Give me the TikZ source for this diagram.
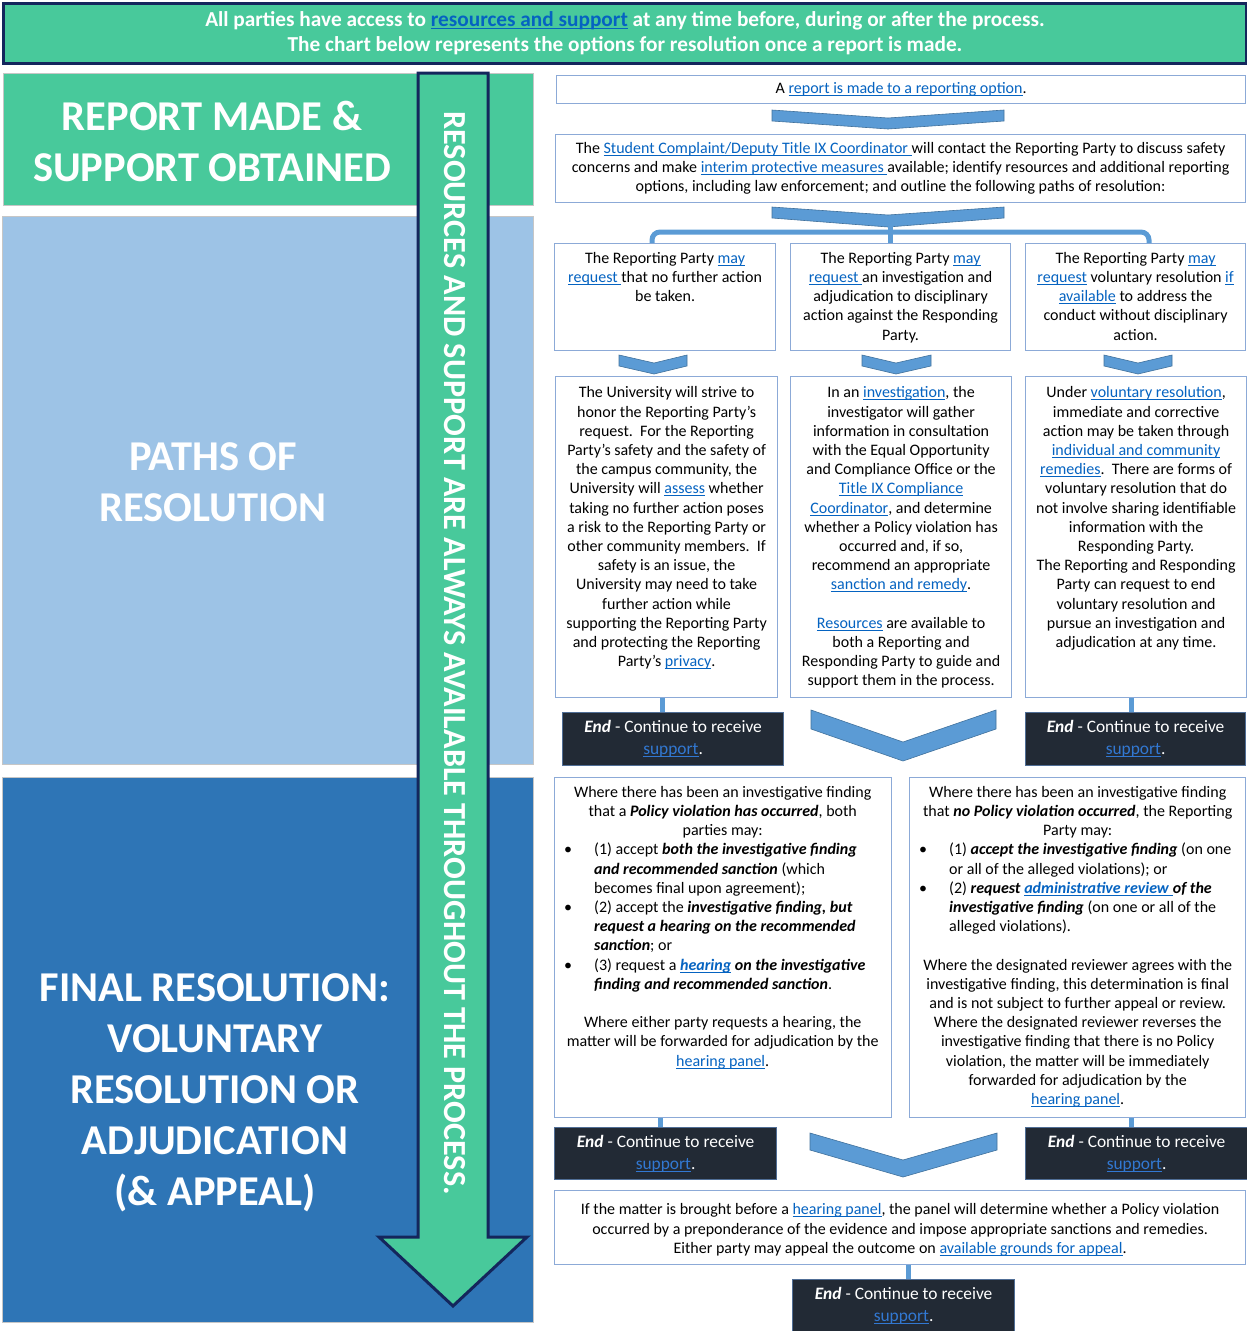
\documentclass[tikz,border=0pt]{standalone}
\usepackage{fontspec}
\setmainfont{Carlito}
\definecolor{grn}{RGB}{72,201,155}
\definecolor{navy}{RGB}{20,38,92}
\definecolor{lblue}{RGB}{157,195,230}
\definecolor{dblue}{RGB}{46,117,182}
\definecolor{boxline}{RGB}{140,170,215}
\definecolor{chevfill}{RGB}{91,155,213}
\definecolor{chevline}{RGB}{65,113,156}
\definecolor{endfill}{RGB}{34,42,53}
\definecolor{endline}{RGB}{80,110,150}
\definecolor{linkblue}{RGB}{5,99,193}
\definecolor{linklight}{RGB}{50,120,210}
\newcommand{\myul}[1]{\leavevmode\setbox0\hbox{#1}\rlap{\rule[-2.4pt]{\wd0}{0.9pt}}\box0}
\newcommand{\lk}[1]{{\color{linkblue}\myul{#1}}}
\newcommand{\bi}[1]{\textbf{\textit{#1}}}
\newlength{\lw}
\newcommand{\cl}[1]{\makebox[\lw][c]{#1}}
\newcommand{\bl}[1]{\makebox[\lw][l]{\makebox[36pt][l]{\hspace{6pt}•}#1}}
\newcommand{\il}[1]{\makebox[\lw][l]{\hspace{36pt}#1}}
\newcommand{\fintxt}{\bi{End} - Continue to receive\\{\color{linklight}\myul{support}}.}
\tikzset{
  bx/.style={draw=boxline, line width=1.2pt, fill=white, inner sep=0pt, anchor=north west},
  txt/.style={inner sep=0pt, align=center, font=\fontsize{16}{19.2}\selectfont},
  endbox/.style={draw=endline, fill=endfill, line width=1.2pt, inner sep=0pt, anchor=north west,
     text=white, align=center, font=\fontsize{17.4}{22}\selectfont},
  chev/.style={fill=chevfill, draw=chevline, line width=0.6pt, line join=miter},
  conn/.style={draw=chevfill, line width=5pt},
  lbox/.style={draw=gray!45, line width=0.8pt, inner sep=0pt, anchor=north west},
  ltxt/.style={text=white, align=center, font=\bfseries\fontsize{42.5}{51}\selectfont},
}
\begin{document}
\begin{tikzpicture}[x=1pt,y=-1pt]
\useasboundingbox (0,0) rectangle (1247,1331);
% top banner
\node[draw=navy, line width=3pt, fill=grn, minimum width=1243, minimum height=60, inner sep=0pt, anchor=north west,
  text=white, align=center, font=\bfseries\fontsize{21.3}{25}\selectfont] (banner) at (2,2)
  {All parties have access to {\color{linkblue}\myul{resources and support}} at any time before, during or after the process.\\
   The chart below represents the options for resolution once a report is made.};
% left column
\node[lbox, fill=grn, minimum width=530, minimum height=132] (lg) at (3,73) {};
\node[lbox, fill=lblue, minimum width=531, minimum height=548] (lb) at (2,216) {};
\node[lbox, fill=dblue, minimum width=531, minimum height=545] (ld) at (2,777) {};
\node[ltxt] (lgt) at (212,141) {REPORT MADE \&\\SUPPORT OBTAINED};
\node[ltxt] (lbt) at (213,482) {PATHS OF\\RESOLUTION};
\node[ltxt] (ldt) at (215,1093) {FINAL RESOLUTION:\\VOLUNTARY\\RESOLUTION OR\\ADJUDICATION\\(\& APPEAL)};
% big arrow
\draw[draw=navy, fill=grn, line width=3pt, line join=miter]
  (418,73) -- (488,73) -- (488,1237) -- (527,1237) -- (453,1306) -- (379,1237) -- (418,1237) -- cycle;
\node[rotate=-90, text=white, font=\bfseries\fontsize{32.2}{34}\selectfont] (arrtxt) at (455,653)
  {RESOURCES AND SUPPORT ARE ALWAYS AVAILABLE THROUGHOUT THE PROCESS.};
% box 1
\node[bx, minimum width=689, minimum height=28, txt, anchor=north west] (b1) at (556,75)
  {A \lk{report is made to a reporting option}.};
\draw[chev] (772,110) -- (888,118) -- (1004,110) -- (1004,121) -- (888,129) -- (772,121) -- cycle;
% box 2
\node[bx, minimum width=690, minimum height=68, txt, anchor=north west] (b2) at (555,134)
  {The \lk{Student Complaint/Deputy Title IX Coordinator }will contact the Reporting Party to discuss safety\\
   concerns and make \lk{interim protective measures }available; identify resources and additional reporting\\
   options, including law enforcement; and outline the following paths of resolution:};
\draw[chev] (772,207) -- (888,215) -- (1004,207) -- (1004,218) -- (888,227) -- (772,218) -- cycle;
% row 1
\node[bx, minimum width=221, minimum height=107] (ra) at (554,243) {};
\node[bx, minimum width=220, minimum height=107] (rb) at (790,243) {};
\node[bx, minimum width=220, minimum height=107] (rc) at (1025,243) {};
\coordinate (brk) at (890,232);
\draw[conn, rounded corners=8pt] (ra.north -| 652,0) |- (brk) -| (rc.north -| 1149,0);
\draw[conn] (890,226) -- (rb.north -| 890,0);
\node[txt, anchor=north] (rat) at ([yshift=-9]ra.north)
  {The Reporting Party \lk{may}\\\lk{request }that no further action\\be taken.};
\node[txt, anchor=north] (rbt) at ([yshift=-9]rb.north)
  {The Reporting Party \lk{may}\\\lk{request }an investigation and\\adjudication to disciplinary\\action against the Responding\\Party.};
\node[txt, anchor=north] (rct) at ([yshift=-9]rc.north)
  {The Reporting Party \lk{may}\\\lk{request} voluntary resolution \lk{if}\\\lk{available} to address the\\conduct without disciplinary\\action.};
\draw[chev] (619,355) -- (654,363) -- (687,355) -- (687,366) -- (654,374) -- (619,366) -- cycle;
\draw[chev] (862,355) -- (896,363) -- (931,355) -- (931,366) -- (896,374) -- (862,366) -- cycle;
\draw[chev] (1104,355) -- (1138,363) -- (1172,355) -- (1172,366) -- (1138,374) -- (1104,366) -- cycle;
% row 2
\node[bx, minimum width=222, minimum height=321] (qa) at (555,376) {};
\node[bx, minimum width=221, minimum height=321] (qb) at (790,376) {};
\node[bx, minimum width=221, minimum height=321] (qc) at (1025,376) {};
\node[txt, anchor=north] (qat) at ([yshift=-10.5]qa.north)
  {The University will strive to\\honor the Reporting Party’s\\request.\ \ For the Reporting\\Party’s safety and the safety of\\the campus community, the\\University will \lk{assess} whether\\taking no further action poses\\a risk to the Reporting Party or\\other community members.\ \ If\\safety is an issue, the\\University may need to take\\further action while\\supporting the Reporting Party\\and protecting the Reporting\\Party’s \lk{privacy}.};
\node[txt, anchor=north] (qbt) at ([yshift=-10.5]qb.north)
  {In an \lk{investigation}, the\\investigator will gather\\information in consultation\\with the Equal Opportunity\\and Compliance Office or the\\\lk{Title IX Compliance}\\\lk{Coordinator}, and determine\\whether a Policy violation has\\occurred and, if so,\\recommend an appropriate\\\lk{sanction and remedy}.\\[19.2pt]\lk{Resources} are available to\\both a Reporting and\\Responding Party to guide and\\support them in the process.};
\node[txt, anchor=north] (qct) at ([yshift=-10.5]qc.north)
  {Under \lk{voluntary resolution},\\immediate and corrective\\action may be taken through\\\lk{individual and community}\\\lk{remedies}.\ \ There are forms of\\voluntary resolution that do\\not involve sharing identifiable\\information with the\\Responding Party.\\The Reporting and Responding\\Party can request to end\\voluntary resolution and\\pursue an investigation and\\adjudication at any time.};
% end boxes row 2
\node[endbox, minimum width=221, minimum height=53] (ea) at (562,712) {\fintxt};
\node[endbox, minimum width=220, minimum height=53] (ec) at (1025,712) {\fintxt};
\draw[conn] (qa.south -| 662,0) -- (ea.north -| 662,0);
\draw[conn] (qc.south -| 1131,0) -- (ec.north -| 1131,0);
\draw[chev] (811,710) -- (903,742) -- (996,710) -- (996,729) -- (903,761) -- (811,729) -- cycle;
% row 3
\node[bx, minimum width=337, minimum height=340] (qd) at (554,777) {};
\node[bx, minimum width=336, minimum height=340] (qe) at (909,777) {};
\setlength{\lw}{329pt}
\node[txt, anchor=north west, align=left] (qdt) at ([xshift=4,yshift=-9]qd.north west)
  {\cl{Where there has been an investigative finding}\\
   \cl{that a \bi{Policy violation has occurred}, both}\\
   \cl{parties may:}\\
   \bl{(1) accept \bi{both the investigative finding}}\\
   \il{\bi{and recommended sanction} (which}\\
   \il{becomes final upon agreement);}\\
   \bl{(2) accept the \bi{investigative finding, but}}\\
   \il{\bi{request a hearing on the recommended}}\\
   \il{\bi{sanction}; or}\\
   \bl{(3) request a \lk{\bi{hearing}} \bi{on the investigative}}\\
   \il{\bi{finding and recommended sanction}.}\\[19.2pt]
   \cl{Where either party requests a hearing, the}\\
   \cl{matter will be forwarded for adjudication by the}\\
   \cl{\lk{hearing panel}.}};
\node[txt, anchor=north west, align=left] (qet) at ([xshift=4,yshift=-9]qe.north west)
  {\cl{Where there has been an investigative finding}\\
   \cl{that \bi{no Policy violation occurred}, the Reporting}\\
   \cl{Party may:}\\
   \bl{(1) \bi{accept the investigative finding} (on one}\\
   \il{or all of the alleged violations); or}\\
   \bl{(2) \bi{request} \lk{\bi{administrative review }}\bi{of the}}\\
   \il{\bi{investigative finding} (on one or all of the}\\
   \il{alleged violations).}\\[19.2pt]
   \cl{Where the designated reviewer agrees with the}\\
   \cl{investigative finding, this determination is final}\\
   \cl{and is not subject to further appeal or review.}\\
   \cl{Where the designated reviewer reverses the}\\
   \cl{investigative finding that there is no Policy}\\
   \cl{violation, the matter will be immediately}\\
   \cl{forwarded for adjudication by the}\\
   \cl{\lk{hearing panel}.}};
\node[endbox, minimum width=222, minimum height=52] (ed) at (554,1127) {\fintxt};
\node[endbox, minimum width=222, minimum height=52] (ee) at (1025,1127) {\fintxt};
\draw[conn] (qd.south -| 660,0) -- (ed.north -| 660,0);
\draw[conn] (qe.south -| 1131,0) -- (ee.north -| 1131,0);
\draw[chev] (810,1133) -- (903,1160) -- (997,1133) -- (997,1150) -- (903,1177) -- (810,1150) -- cycle;
% box F
\node[bx, minimum width=691, minimum height=74] (bf) at (554,1190) {};
\node[txt, anchor=north] (bft) at ([yshift=-13.5]bf.north)
  {If the matter is brought before a \lk{hearing panel}, the panel will determine whether a Policy violation\\
   occurred by a preponderance of the evidence and impose appropriate sanctions and remedies.\\
   Either party may appeal the outcome on \lk{available grounds for appeal}.};
\node[endbox, minimum width=222, minimum height=52] (ef) at (792,1279) {\fintxt};
\draw[conn] (bf.south -| 908,0) -- (ef.north -| 908,0);
\end{tikzpicture}
\end{document}
